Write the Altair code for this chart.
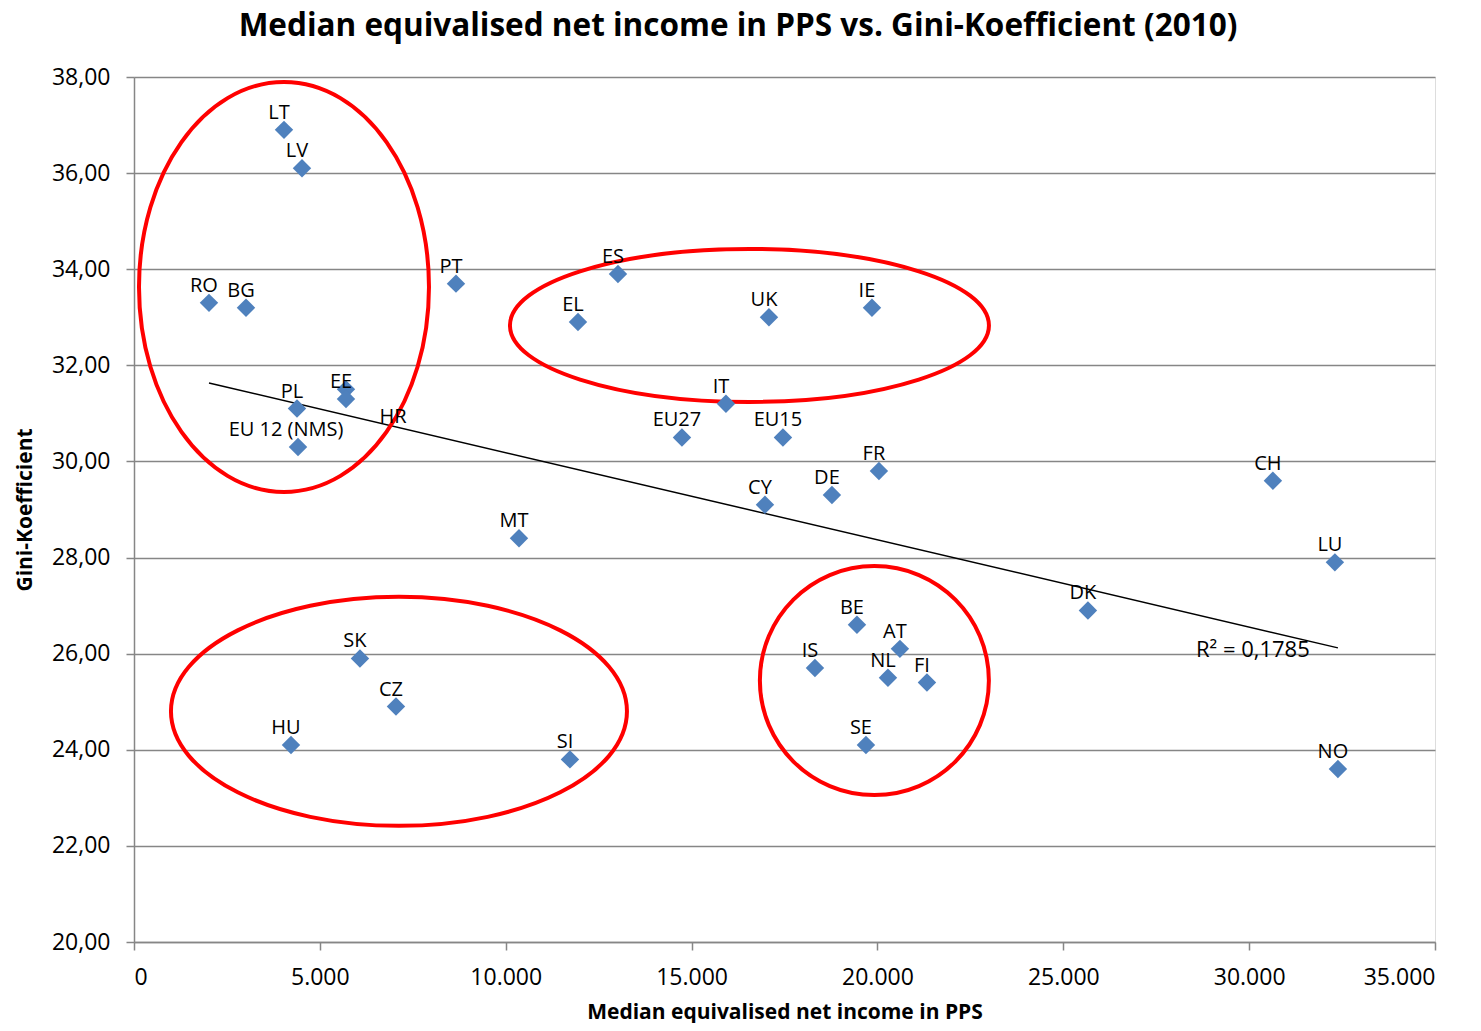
import altair as alt
import pandas as pd

title_text = ["Median equivalised net income in PPS  vs. Gini-Koefficient (2010)"]

countries = ["LT", "LV", "RO", "BG", "PT", "ES", "EL", "UK", "IE", "PL", "HR", "EE",
             "EU 12 (NMS)", "IT", "EU27", "EU15", "FR", "CH", "CY", "DE", "MT", "LU",
             "DK", "BE", "AT", "IS", "NL", "FI", "SE", "NO", "SK", "CZ", "HU", "SI"]
income = [4035, 4519, 2017, 3013, 8662, 13020, 11944, 17082, 19853, 4385, 5703, 5703,
          4412, 15925, 14741, 17458, 20040, 30639, 16974, 18776, 10357, 32307,
          25663, 19449, 20605, 18319, 20283, 21332, 19691, 32388, 6079, 7048, 4223, 11728]
gini = [36.9, 36.1, 33.3, 33.2, 33.7, 33.9, 32.9, 33.0, 33.2, 31.1, 31.5, 31.3,
        30.3, 31.2, 30.5, 30.5, 29.8, 29.6, 29.1, 29.3, 28.4, 27.9,
        26.9, 26.6, 26.1, 25.7, 25.5, 25.4, 24.1, 23.6, 25.9, 24.9, 24.1, 23.8]

# annotation ellipses (centres in data units)
ell_x = [4035, 16557, 7128, 19918]
ell_y = [33.63, 32.83, 24.80, 25.44]

r2_label = ["R² = 0,1785"]
r2_x = [30100]
r2_y = [26.08]

FONT = "Open Sans"

df = pd.DataFrame({"country": countries, "income": income, "gini": gini})
ell_df = pd.DataFrame({"x": ell_x, "y": ell_y, "id": [0, 1, 2, 3]})
r2_df = pd.DataFrame({"label": r2_label, "x": r2_x, "y": r2_y})
title_df = pd.DataFrame({"t": title_text})

xscale = alt.Scale(domain=[0, 35000], nice=False, zero=False)
yscale = alt.Scale(domain=[20, 38], nice=False, zero=False)

xaxis = alt.Axis(
    values=list(range(0, 35001, 5000)),
    labelExpr="replace(format(datum.value, ','), ',', '.')",
    grid=False, tickSize=8, labelPadding=16, labelFontSize=23, labelFont=FONT,
    labelColor="black", title="Median equivalised net income in PPS",
    titleFont=FONT, titleFontSize=21, titleFontWeight="bold", titleColor="black",
    titleY=70, titleBaseline="middle", domainColor="#868686", tickColor="#868686",
    domainWidth=1.5, tickWidth=1.5,
)
yaxis = alt.Axis(
    values=list(range(20, 39, 2)),
    labelExpr="replace(format(datum.value, '.2f'), '.', ',')",
    grid=True, gridColor="#868686", gridWidth=1.5, tickSize=8, labelPadding=16,
    labelFontSize=23, labelFont=FONT, labelColor="black",
    title="Gini-Koefficient", titleFont=FONT, titleFontSize=21,
    titleFontWeight="bold", titleColor="black", titleX=-109,
    titleBaseline="middle", domainColor="#868686", tickColor="#868686",
    domainWidth=1.5, tickWidth=1.5,
)

base = alt.Chart(df)

points = base.mark_point(shape="diamond", filled=True, size=340, color="#4F81BD",
                         opacity=1).encode(
    x=alt.X("income:Q", scale=xscale, axis=xaxis),
    y=alt.Y("gini:Q", scale=yscale, axis=yaxis),
)

labels = base.transform_filter(
    (alt.datum.country != "HR") & (alt.datum.country != "EU 12 (NMS)")
).mark_text(
    dx=-5, dy=-17, font=FONT, fontSize=20, color="black", baseline="middle",
    align="center").encode(x="income:Q", y="gini:Q", text="country:N")

eu12_label = base.transform_filter(alt.datum.country == "EU 12 (NMS)").mark_text(
    dx=-12, dy=-17, font=FONT, fontSize=20, color="black", baseline="middle",
    align="center").encode(x="income:Q", y="gini:Q", text="country:N")

hr_label = base.transform_filter(alt.datum.country == "HR").mark_text(
    dx=47, dy=28, font=FONT, fontSize=20, color="black", baseline="middle",
    align="center").encode(x="income:Q", y="gini:Q", text="country:N")

trend = base.transform_regression("income", "gini").mark_line(
    color="black", strokeWidth=1.5).encode(x="income:Q", y="gini:Q")

r2 = alt.Chart(r2_df).mark_text(font=FONT, fontSize=22, color="black",
                                baseline="middle", align="center").encode(
    x="x:Q", y="y:Q", text="label:N")

title = alt.Chart(title_df).mark_text(
    font=FONT, fontSize=31.5, fontWeight="bold", color="black",
    baseline="alphabetic", align="center").encode(
    x=alt.value(604), y=alt.value(-41), text="t:N")


def ellipse_path(rx, ry):
    m = max(rx, ry)
    a, b = rx / m, ry / m
    k = 0.5523
    ka, kb = k * a, k * b
    return (f"M {a} 0 C {a} {kb} {ka} {b} 0 {b} C {-ka} {b} {-a} {kb} {-a} 0 "
            f"C {-a} {-kb} {-ka} {-b} 0 {-b} C {ka} {-b} {a} {-kb} {a} 0 Z")


ell_px = [(145, 205), (239.5, 76.5), (228, 114.5), (114.5, 114.5)]
ellipses = []
for i, (rx, ry) in enumerate(ell_px):
    m = max(rx, ry)
    ellipses.append(
        alt.Chart(ell_df).transform_filter(alt.datum.id == i).mark_point(
            shape=ellipse_path(rx, ry), size=(2 * m) ** 2, filled=False,
            stroke="#FF0000", strokeWidth=4, opacity=1).encode(x="x:Q", y="y:Q")
    )

chart = alt.layer(trend, *ellipses, points, labels, eu12_label, hr_label, r2,
                  title).properties(
    width=1301, height=865,
    autosize=alt.AutoSizeParams(type="none"),
    padding={"left": 126, "top": 69, "right": 30, "bottom": 81},
).configure_view(stroke=None).configure(background="white")

chart.save("out.html", embed_options={"renderer": "svg", "actions": False})
